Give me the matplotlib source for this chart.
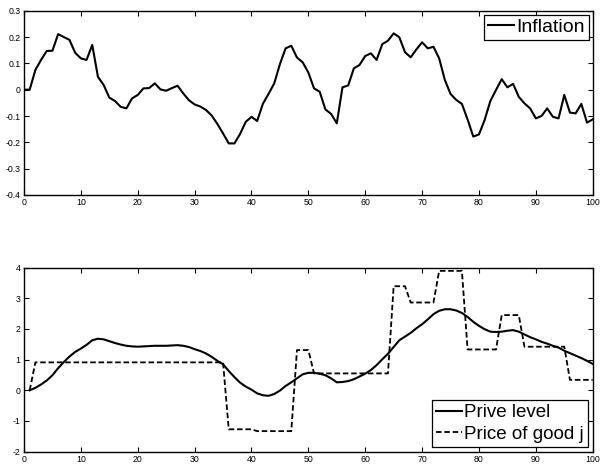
import matplotlib
matplotlib.use("Agg")
import matplotlib.pyplot as plt
import numpy as np

# ---------------- data ----------------
t_infl = list(range(0, 101))
inflation = [
    0.000, 0.000, 0.075, 0.113, 0.147, 0.148, 0.211, 0.200, 0.189, 0.140,
    0.119, 0.113, 0.170, 0.049, 0.018, -0.030, -0.043, -0.065, -0.071, -0.033,
    -0.020, 0.005, 0.006, 0.024, 0.001, -0.004, 0.006, 0.015, -0.014, -0.040,
    -0.056, -0.064, -0.077, -0.098, -0.130, -0.166, -0.204, -0.204, -0.168, -0.122,
    -0.103, -0.119, -0.054, -0.016, 0.024, 0.097, 0.157, 0.167, 0.122, 0.104,
    0.065, 0.005, -0.008, -0.075, -0.092, -0.128, 0.009, 0.016, 0.081, 0.094,
    0.128, 0.138, 0.113, 0.173, 0.186, 0.214, 0.199, 0.142, 0.123, 0.153,
    0.180, 0.157, 0.163, 0.119, 0.037, -0.016, -0.039, -0.054, -0.113, -0.178,
    -0.170, -0.115, -0.043, -0.001, 0.040, 0.009, 0.022, -0.027, -0.052, -0.071,
    -0.109, -0.100, -0.071, -0.103, -0.109, -0.020, -0.087, -0.090, -0.054, -0.125,
    -0.113,
]

t_price = list(range(1, 101))
price_level = [
    0.00, 0.08, 0.19, 0.32, 0.49, 0.72, 0.92, 1.10, 1.25, 1.36,
    1.48, 1.63, 1.68, 1.66, 1.60, 1.54, 1.49, 1.45, 1.43, 1.42,
    1.43, 1.44, 1.45, 1.45, 1.45, 1.46, 1.47, 1.45, 1.41, 1.34,
    1.28, 1.20, 1.09, 0.96, 0.85, 0.63, 0.43, 0.25, 0.12, 0.02,
    -0.10, -0.16, -0.18, -0.12, -0.01, 0.14, 0.26, 0.39, 0.52, 0.57,
    0.57, 0.54, 0.49, 0.39, 0.26, 0.27, 0.30, 0.36, 0.45, 0.54,
    0.66, 0.82, 1.01, 1.19, 1.41, 1.63, 1.75, 1.87, 2.02, 2.15,
    2.31, 2.48, 2.59, 2.64, 2.64, 2.60, 2.52, 2.39, 2.23, 2.10,
    1.99, 1.91, 1.90, 1.91, 1.94, 1.96, 1.91, 1.82, 1.73, 1.66,
    1.58, 1.52, 1.45, 1.39, 1.29, 1.21, 1.13, 1.05, 0.96, 0.86,
]

price_good_j = (
    [0.00]
    + [0.91] * 34
    + [-1.27] * 5
    + [-1.33] * 7
    + [1.31] * 3
    + [0.55] * 14
    + [3.39] * 3
    + [2.86] * 5
    + [3.89] * 5
    + [1.33] * 6
    + [2.45] * 4
    + [1.42] * 8
    + [0.34] * 5
)

x_ticks = list(range(0, 101, 10))
top_yticks = [-0.4, -0.3, -0.2, -0.1, 0.0, 0.1, 0.2, 0.3]
top_ylabels = ["-0.4", "-0.3", "-0.2", "-0.1", "0", "0.1", "0.2", "0.3"]
bot_yticks = [-2, -1, 0, 1, 2, 3, 4]
bot_ylabels = ["-2", "-1", "0", "1", "2", "3", "4"]

# ---------------- style ----------------
plt.rcParams['font.family'] = ['Liberation Sans', 'DejaVu Sans']
plt.rcParams['lines.scale_dashes'] = False

W, H = 602, 466
fig = plt.figure(figsize=(W / 100, H / 100), dpi=100)

def px_axes(left, top, right, bottom):
    return fig.add_axes([left / W, 1 - bottom / H, (right - left) / W, (bottom - top) / H])

ax1 = px_axes(24, 10.7, 592.7, 195)
ax2 = px_axes(24, 267.5, 592.7, 451.7)

def style(ax, yticks, ylabels, ylim):
    ax.set_xlim(0, 100)
    ax.set_ylim(*ylim)
    ax.set_xticks(x_ticks)
    ax.set_xticklabels([str(v) for v in x_ticks])
    ax.set_yticks(yticks)
    ax.set_yticklabels(ylabels)
    ax.tick_params(direction='in', top=True, right=True, length=3.5, width=0.8,
                   labelsize=6.3, pad=2.5, colors='black')
    for s in ax.spines.values():
        s.set_linewidth(1.0)

ax1.plot(t_infl, inflation, color='black', lw=1.5, label='Inflation')
style(ax1, top_yticks, top_ylabels, (-0.4, 0.3))
leg1 = ax1.legend(loc='upper right', fontsize=14, handlelength=1.35, handletextpad=0.1,
                  borderpad=0.2, borderaxespad=0.2, fancybox=False, framealpha=1,
                  edgecolor='black', labelspacing=0.05)
leg1.get_frame().set_linewidth(0.9)

ax2.plot(t_price, price_level, color='black', lw=1.5, label='Prive level')
ax2.plot(t_price, price_good_j, color='black', lw=1.3, dashes=(4.0, 2.0),
         label='Price of good j')
style(ax2, bot_yticks, bot_ylabels, (-2, 4))
leg2 = ax2.legend(loc='lower right', fontsize=13.5, handlelength=1.4, handletextpad=0.1,
                  borderpad=0.22, borderaxespad=0.25, fancybox=False, framealpha=1,
                  edgecolor='black', labelspacing=0.25)
leg2.get_frame().set_linewidth(0.9)

fig.savefig('out.png', dpi=100)
